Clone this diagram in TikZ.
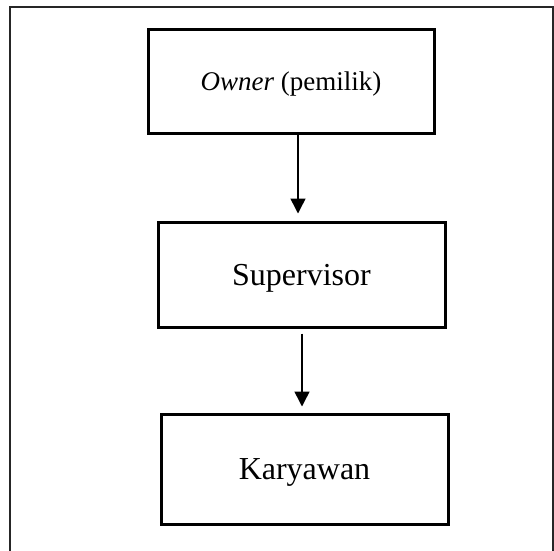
\documentclass[tikz,border=0pt]{standalone}
\usepackage{fontspec}
\setmainfont{Liberation Serif}
\usepackage{tikz}
\usetikzlibrary{positioning,arrows.meta}

\begin{document}
\begin{tikzpicture}[x=1pt,y=-1pt,>={Triangle[length=15pt,width=15pt]},
  orgbox/.style={draw,line width=3pt,inner sep=0pt,text depth=0pt,align=center}]
\useasboundingbox (0,0) rectangle (554,550);
\draw[line width=1.8pt,black!85] (10,560) -- (10,7) -- (553,7) -- (553,560);
\node[orgbox,minimum width=286pt,minimum height=104pt,font=\fontsize{27}{32}\selectfont] (owner) at (291,81) {\textit{Owner} (pemilik)};
\node[orgbox,minimum width=287pt,minimum height=105pt,font=\fontsize{32}{38}\selectfont] (super) at (301.5,274.5) {Supervisor};
\node[orgbox,minimum width=287pt,minimum height=110pt,font=\fontsize{32}{38}\selectfont] (karya) at (304.5,469) {Karyawan};
\draw[->,line width=1.5pt,shorten >=7pt] ([xshift=7pt]owner.south) -- ([xshift=-3.5pt]super.north);
\draw[->,line width=1.5pt,shorten <=5pt,shorten >=6pt] ([xshift=0.5pt]super.south) -- ([xshift=-2.5pt]karya.north);
\end{tikzpicture}
\end{document}
